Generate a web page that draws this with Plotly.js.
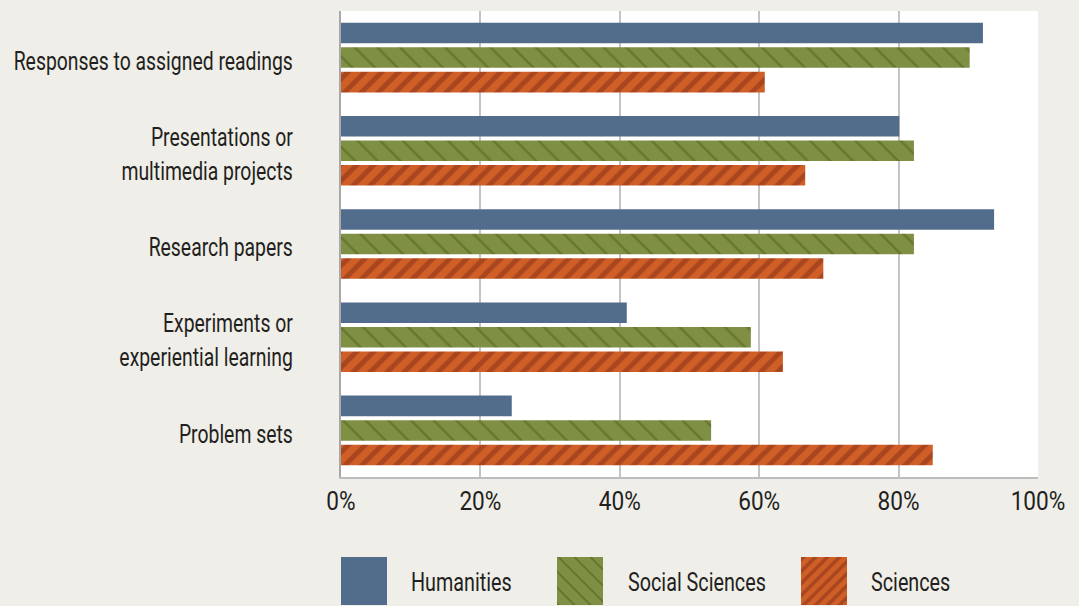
<!DOCTYPE html>
<html><head><meta charset="utf-8">
<script src="https://cdn.plot.ly/plotly-3.0.1.min.js"></script>
<style>html,body{margin:0;padding:0;background:#efeee8;}#chart{width:1079px;height:606px;}</style>
</head><body><div id="chart"></div>
<script>
const categories = ["Responses to assigned readings", "Presentations or<br>multimedia projects", "Research papers", "Experiments or<br>experiential learning", "Problem sets"];
const seriesNames = ["Humanities", "Social Sciences", "Sciences"];
const humanities = [92.1, 80.1, 93.7, 41.0, 24.5];
const socialSciences = [90.2, 82.2, 82.2, 58.8, 53.1];
const sciences = [60.8, 66.6, 69.2, 63.4, 84.9];
const tickVals = [0, 20, 40, 60, 80, 100];
const tickText = ["0%", "20%", "40%", "60%", "80%", "100%"];

const FONT = "Roboto, 'Liberation Sans', sans-serif";
const textColor = "#231f20";
const colors = ['#526d8b', '#7f8f43', '#cf5f27'];
const darks = [null, '#66782f', '#a9461f'];

const traces = [
  {type:'bar', orientation:'h', name:seriesNames[0], y:categories, x:humanities,
   marker:{color:colors[0], line:{width:0}}},
  {type:'bar', orientation:'h', name:seriesNames[1], y:categories, x:socialSciences,
   marker:{color:colors[1], line:{width:0},
     pattern:{shape:'\\', fgcolor:darks[1], bgcolor:colors[1], size:16, solidity:0.15, fillmode:'replace'}}},
  {type:'bar', orientation:'h', name:seriesNames[2], y:categories, x:sciences,
   marker:{color:colors[2], line:{width:0},
     pattern:{shape:'/', fgcolor:darks[2], bgcolor:colors[2], size:12, solidity:0.42, fillmode:'replace'}}}
];

// legend swatches as small SVG images
function swatch(i){
  let defs = '', fill = colors[i];
  if(i === 1){
    defs = '<defs><pattern id="p" patternUnits="userSpaceOnUse" width="11.3" height="11.3" patternTransform="rotate(-45)"><rect width="11.3" height="11.3" fill="'+colors[1]+'"/><rect width="2" height="11.3" fill="'+darks[1]+'"/></pattern></defs>';
    fill = 'url(#p)';
  } else if(i === 2){
    defs = '<defs><pattern id="p" patternUnits="userSpaceOnUse" width="8.5" height="8.5" patternTransform="rotate(45)"><rect width="8.5" height="8.5" fill="'+colors[2]+'"/><rect width="3.6" height="8.5" fill="'+darks[2]+'"/></pattern></defs>';
    fill = 'url(#p)';
  }
  const svg = '<svg xmlns="http://www.w3.org/2000/svg" width="46" height="48" viewBox="0 0 46 48">'+defs+'<rect width="46" height="48" fill="'+fill+'"/></svg>';
  return 'data:image/svg+xml;charset=utf-8,' + encodeURIComponent(svg);
}
const legendSwatchX = [0, 0.3099, 0.66];
const legendTextX = [0.0976, 0.409, 0.7576];

const layout = {
  width:1079, height:606,
  paper_bgcolor:'#efeee8', plot_bgcolor:'#ffffff',
  margin:{l:341, r:41, t:11, b:129, pad:0},
  barmode:'group', bargap:0.21, bargroupgap:0.163,
  font:{family:FONT, size:26, color:textColor},
  showlegend:false,
  xaxis:{range:[0,100], tickvals:tickVals, ticktext:tickText, showgrid:true,
    gridcolor:'#c4c4c4', gridwidth:2, showline:true, linecolor:'#bdbdbd', linewidth:2,
    zeroline:false, ticks:'', ticklabelstandoff:0, tickfont:{family:FONT, size:26, color:textColor}, fixedrange:true},
  yaxis:{autorange:'reversed', showline:true, linecolor:'#a8a8a8', linewidth:2, ticks:'',
    showgrid:false, ticklabelstandoff:41, ticklabelshift:-3, tickfont:{family:FONT, size:26, color:textColor}, fixedrange:true},
  images: seriesNames.map((n,i)=>({source:swatch(i), xref:'paper', yref:'paper',
    x:legendSwatchX[i], y:-0.1717, sizex:46/697, sizey:48/466, xanchor:'left', yanchor:'top',
    sizing:'stretch', layer:'above'})),
  annotations: seriesNames.map((n,i)=>({text:n, xref:'paper', yref:'paper',
    x:legendTextX[i], y:-0.2253, xanchor:'left', yanchor:'middle', align:'left', showarrow:false,
    font:{family:FONT, size:26, color:textColor}}))
};

function squeeze(sel, f){
  document.querySelectorAll(sel).forEach(function(t){
    const lines = t.querySelectorAll('tspan.line');
    const targets = lines.length ? Array.from(lines) : [t];
    targets.forEach(function(el){
      const L = el.getComputedTextLength();
      el.setAttribute('textLength', (L*f).toFixed(2));
      el.setAttribute('lengthAdjust', 'spacingAndGlyphs');
    });
  });
}

Plotly.newPlot('chart', traces, layout, {displayModeBar:false, staticPlot:true}).then(function(){
  squeeze('.ytick text', 0.745);
  squeeze('.xtick text', 0.87);
  squeeze('.annotation-text', 0.76);
});
</script></body></html>
